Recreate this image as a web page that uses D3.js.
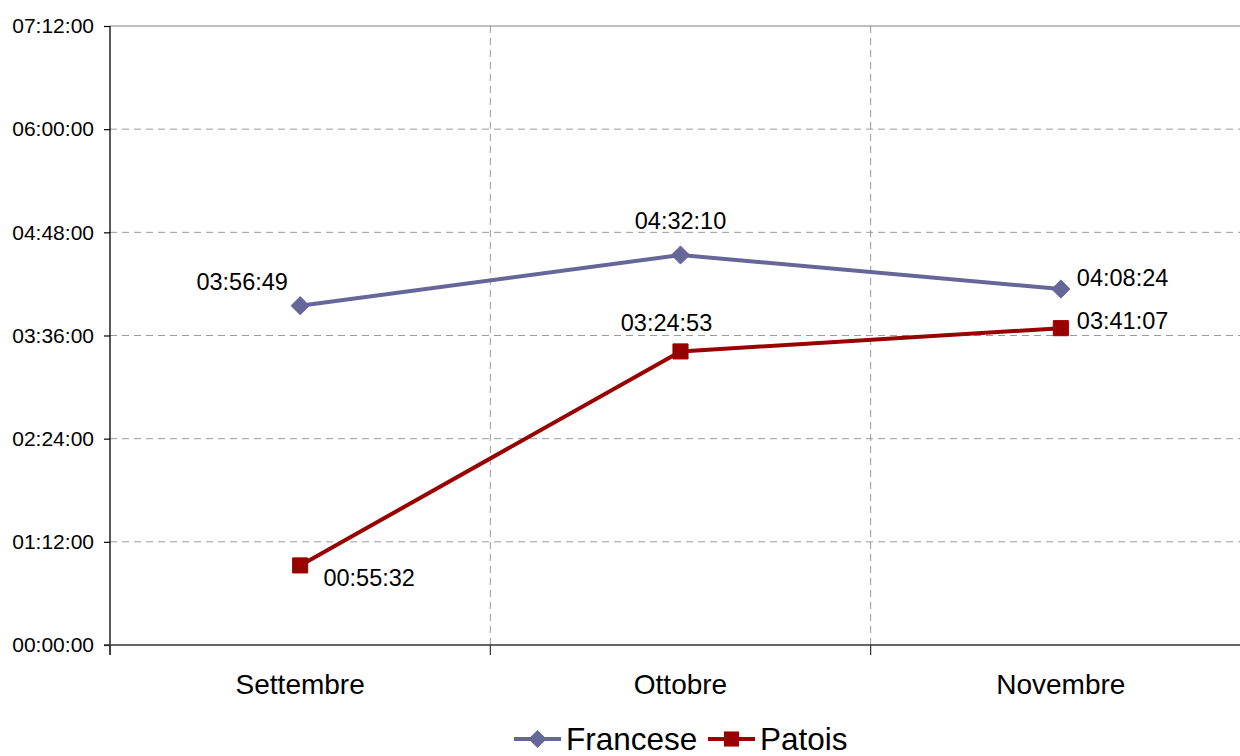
<!DOCTYPE html>
<html>
<head>
<meta charset="utf-8">
<script src="https://cdn.jsdelivr.net/npm/d3@7"></script>
<style>
  html, body { margin: 0; padding: 0; background: #fff; overflow: hidden; }
  svg { display: block; font-family: "Liberation Sans", Arial, Helvetica, sans-serif; }
</style>
</head>
<body>
<svg id="chart" width="1240" height="756"></svg>
<script>
// Monthly listening time per language (hh:mm:ss)
const months = ["Settembre", "Ottobre", "Novembre"];
const seriesNames = ["Francese", "Patois"];
const francese = ["03:56:49", "04:32:10", "04:08:24"];
const patois = ["00:55:32", "03:24:53", "03:41:07"];
const yTickLabels = ["00:00:00", "01:12:00", "02:24:00", "03:36:00", "04:48:00", "06:00:00", "07:12:00"];

const toSec = s => { const [h, m, x] = s.split(":").map(Number); return h * 3600 + m * 60 + x; };

const svg = d3.select("#chart");
const plotLeft = 110, plotRight = 1251, plotTop = 26, plotBottom = 645;

const x = d3.scaleBand().domain(months).range([plotLeft, plotRight]).padding(0);
const yTicks = yTickLabels.map(toSec);
const yMax = d3.max(yTicks);
const y = d3.scaleLinear().domain([0, yMax]).range([plotBottom, plotTop]);

const gridColor = "#9a9a9a";

// horizontal dashed gridlines
svg.append("g").selectAll("line")
  .data(yTicks.filter(v => v > 0 && v < yMax))
  .join("line")
  .attr("x1", plotLeft).attr("x2", plotRight)
  .attr("y1", d => y(d)).attr("y2", d => y(d))
  .attr("stroke", gridColor).attr("stroke-width", 1)
  .attr("stroke-dasharray", "7,5");

// vertical dashed gridlines at category boundaries
svg.append("g").selectAll("line")
  .data(months.slice(1))
  .join("line")
  .attr("x1", d => x(d)).attr("x2", d => x(d))
  .attr("y1", plotTop).attr("y2", plotBottom)
  .attr("stroke", gridColor).attr("stroke-width", 1)
  .attr("stroke-dasharray", "7,5");

// top border of the plot area
svg.append("line")
  .attr("x1", plotLeft).attr("x2", plotRight)
  .attr("y1", y(yMax)).attr("y2", y(yMax))
  .attr("stroke", "#808080").attr("stroke-width", 1.2);

// y axis
const yAxis = d3.axisLeft(y)
  .tickValues(yTicks)
  .tickFormat((d, i) => yTickLabels[i])
  .tickSize(6).tickPadding(10);
const gy = svg.append("g").attr("transform", `translate(${plotLeft},0)`).call(yAxis);
gy.select(".domain").attr("stroke", "#000").attr("stroke-width", 1.3).attr("d", `M0,${plotTop}V${plotBottom + 10}`);
gy.selectAll(".tick line").attr("stroke", "#000").attr("stroke-width", 1.2);
gy.selectAll(".tick text").attr("font-size", 21).attr("fill", "#000")
  .attr("font-family", "Liberation Sans, Arial, sans-serif");

// x axis baseline, boundary ticks and category names
svg.append("line")
  .attr("x1", plotLeft - 6).attr("x2", plotRight)
  .attr("y1", plotBottom).attr("y2", plotBottom)
  .attr("stroke", "#333").attr("stroke-width", 1.3);
svg.append("g").selectAll("line")
  .data(months)
  .join("line")
  .attr("x1", d => x(d)).attr("x2", d => x(d))
  .attr("y1", plotBottom).attr("y2", plotBottom + 10)
  .attr("stroke", "#333").attr("stroke-width", 1.2);
svg.append("g").selectAll("text")
  .data(months)
  .join("text")
  .attr("x", d => x(d) + x.bandwidth() / 2)
  .attr("y", 694)
  .attr("text-anchor", "middle")
  .attr("font-size", 28)
  .attr("fill", "#000")
  .text(d => d);

// per-point label placement: [dx, dy, anchor]
const series = [
  { name: seriesNames[0], values: francese, color: "#666699", symbol: d3.symbolDiamond2, size: 210,
    labelPos: [[-58, -24, "middle"], [0, -34, "middle"], [16, -11, "start"]] },
  { name: seriesNames[1], values: patois, color: "#990000", symbol: d3.symbolSquare2, size: 290,
    labelPos: [[69, 13, "middle"], [-14, -28, "middle"], [16, -7, "start"]] }
];

const line = d3.line()
  .x(d => x(d.m) + x.bandwidth() / 2)
  .y(d => y(d.v));

series.forEach(s => {
  const pts = months.map((m, i) => ({ m, v: toSec(s.values[i]), label: s.values[i], pos: s.labelPos[i] }));
  svg.append("path")
    .datum(pts)
    .attr("d", line)
    .attr("fill", "none")
    .attr("stroke", s.color)
    .attr("stroke-width", 4)
    .attr("stroke-linejoin", "round");
  svg.append("g").selectAll("path")
    .data(pts)
    .join("path")
    .attr("transform", d => `translate(${x(d.m) + x.bandwidth() / 2},${y(d.v)})`)
    .attr("d", d3.symbol().type(s.symbol).size(s.size))
    .attr("fill", s.color)
    .attr("stroke", s.color).attr("stroke-width", 1);
  svg.append("g").selectAll("text")
    .data(pts)
    .join("text")
    .attr("x", d => x(d.m) + x.bandwidth() / 2 + d.pos[0])
    .attr("y", d => y(d.v) + d.pos[1])
    .attr("text-anchor", d => d.pos[2])
    .attr("dominant-baseline", "central")
    .attr("font-size", 23.5)
    .attr("fill", "#000")
    .text(d => d.label);
});

// legend along the bottom edge
const legend = svg.append("g");
const legendItems = [
  { s: series[0], x0: 514, tx: 566 },
  { s: series[1], x0: 708, tx: 760 }
];
const ly = 739;
legendItems.forEach(it => {
  legend.append("line")
    .attr("x1", it.x0).attr("x2", it.x0 + 47)
    .attr("y1", ly).attr("y2", ly)
    .attr("stroke", it.s.color).attr("stroke-width", 4);
  legend.append("path")
    .attr("transform", `translate(${it.x0 + 23.5},${ly})`)
    .attr("d", d3.symbol().type(it.s.symbol).size(it.s.size))
    .attr("fill", it.s.color);
  legend.append("text")
    .attr("x", it.tx).attr("y", ly)
    .attr("dominant-baseline", "central")
    .attr("font-size", 31.5)
    .attr("fill", "#000")
    .text(it.s.name);
});
</script>
</body>
</html>
